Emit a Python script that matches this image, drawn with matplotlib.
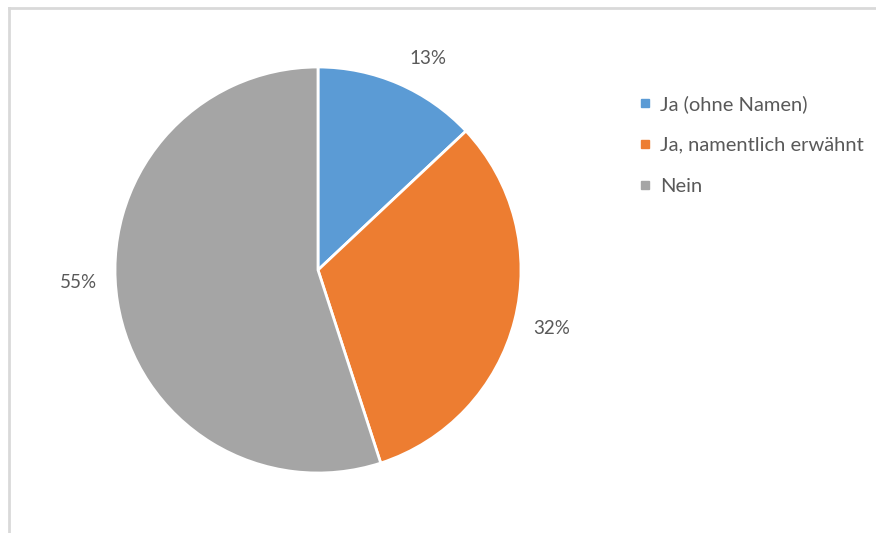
import matplotlib.pyplot as plt
from matplotlib.lines import Line2D

# Survey answers and their shares in percent
labels = ['Ja (ohne Namen)', 'Ja, namentlich erwähnt', 'Nein']
shares = [13, 32, 55]
colors = ['#5B9BD5', '#ED7D31', '#A5A5A5']

# where each percentage label sits, in pie radii from the centre
label_pos = [(0.54, 1.04), (1.15, -0.29), (-1.18, -0.06)]

plt.rcParams['font.family'] = ['Lato', 'DejaVu Sans']

W, H = 876, 533
fig = plt.figure(figsize=(W / 100, H / 100), dpi=100)

# light chart frame along the top and left edges
frame = dict(color='#D9D9D9', linewidth=2, transform=fig.transFigure)
fig.add_artist(Line2D([9 / W, 1], [1 - 8 / H, 1 - 8 / H], **frame))
fig.add_artist(Line2D([9 / W, 9 / W], [0, 1 - 8 / H], **frame))

# pie axes sized in pixels: centre (318, 270), radius ~203
cx, cy, r = 318, 270, 203
ax = fig.add_axes([(cx - r) / W, (H - cy - r) / H, 2 * r / W, 2 * r / H])
wedges, _, pcts = ax.pie(shares, colors=colors, startangle=90, counterclock=False,
                         autopct='%d%%', radius=1,
                         wedgeprops=dict(edgecolor='white', linewidth=2),
                         textprops=dict(color='#595959', fontsize=13.5))
for t, pos in zip(pcts, label_pos):
    t.set_position(pos)
ax.set_xlim(-1, 1)
ax.set_ylim(-1, 1)
ax.set_aspect('equal')

# legend with small square markers
handles = [Line2D([], [], marker='s', linestyle='none', markersize=6,
                  markerfacecolor=c, markeredgecolor=c) for c in colors]
fig.legend(handles, labels, loc='upper left', bbox_to_anchor=(631 / W, 1 - 87 / H),
           frameon=False, fontsize=14.5, labelcolor='#595959', handlelength=0.6,
           handletextpad=0.45, labelspacing=1.18, borderaxespad=0)

fig.savefig('out.png', dpi=100)
